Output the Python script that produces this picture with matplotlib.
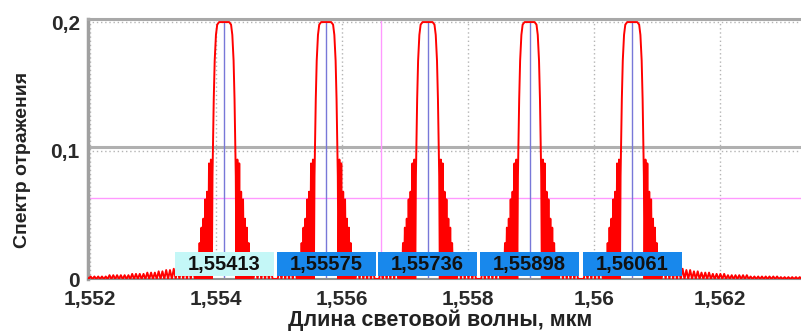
import numpy as np
import matplotlib
matplotlib.use('Agg')
import matplotlib.pyplot as plt
from matplotlib.patches import Rectangle

# peak centres, um, and the labels shown in the boxes
centers = [1.55413, 1.55575, 1.55736, 1.55898, 1.56061]
labels = ['1,55413', '1,55575', '1,55736', '1,55898', '1,56061']

# one reflection peak: offset from centre (nm) -> value
main_off = [0.0, 0.08, 0.11, 0.13, 0.15, 0.165, 0.175, 0.185, 0.19, 0.195]
main_val = [0.2, 0.2, 0.198, 0.19, 0.17, 0.14, 0.11, 0.08, 0.04, 0.0]
# side lobes
lobe_off = [0.21, 0.24, 0.27, 0.30, 0.33, 0.36, 0.39, 0.42, 0.45]
lobe_val = [0.093, 0.09, 0.068, 0.062, 0.047, 0.04, 0.028, 0.02, 0.011]
# weak ripple far from the peak
tail_off = [0.50, 0.56, 0.62, 0.68, 0.74, 0.80, 0.86, 0.92, 0.98, 1.04,
            1.10, 1.16, 1.22, 1.28, 1.34, 1.40, 1.46, 1.52, 1.58, 1.64,
            1.70, 1.76, 1.82, 1.88, 1.94, 2.00, 2.06, 2.12, 2.18, 2.24,
            2.30, 2.36, 2.42, 2.48, 2.54, 2.60, 2.66, 2.72]
tail_val = [0.010, 0.010, 0.009, 0.009, 0.008, 0.008, 0.007, 0.007, 0.006, 0.006,
            0.005, 0.005, 0.005, 0.004, 0.004, 0.004, 0.004, 0.003, 0.003, 0.003,
            0.003, 0.003, 0.003, 0.002, 0.002, 0.002, 0.002, 0.002, 0.002, 0.002,
            0.002, 0.0015, 0.0015, 0.0015, 0.0015, 0.0015, 0.0015, 0.0015]

xticks = [1.552, 1.554, 1.556, 1.558, 1.56, 1.562]
xtick_labels = ['1,552', '1,554', '1,556', '1,558', '1,56', '1,562']
yticks = [0, 0.1, 0.2]
ytick_labels = ['0', '0,1', '0,2']

marker_x = 1.55662   # pink cursor lines
marker_y = 0.063


def one_side(limit):
    off = list(main_off)
    val = list(main_val)
    for o, v in zip(lobe_off, lobe_val):
        off += [o, o + 0.015]
        val += [v, 0.0]
    for o, v in zip(tail_off, tail_val):
        if o + 0.03 < limit:
            off += [o, o + 0.03]
            val += [v, 0.0]
    return np.array(off), np.array(val)


X, Y = [], []
for i, c in enumerate(centers):
    lim_l = (c - centers[i - 1]) * 500 if i > 0 else 3.0
    lim_r = (centers[i + 1] - c) * 500 if i < len(centers) - 1 else 3.0
    lo, lv = one_side(lim_l)
    ro, rv = one_side(lim_r)
    X += list(c - lo[::-1] * 1e-3) + list(c + ro[1:] * 1e-3)
    Y += list(lv[::-1]) + list(rv[1:])

plt.rcParams['font.family'] = ['Liberation Sans', 'DejaVu Sans']

fig = plt.figure(figsize=(8.01, 3.31), dpi=100)
ax = fig.add_axes([0.110, 0.157, 0.890, 0.786])
ax.set_xlim(1.55197, 1.56329)
ax.set_ylim(0, 0.2025)

grid = dict(color='#b4b4b4', lw=1, ls=(0, (1, 2)), zorder=1)
for t in xticks:
    ax.axvline(t, **grid)
for t in yticks[1:]:
    ax.axhline(t, **grid)
ax.axhline(0.1031, color='#b0b0b0', lw=2.2, zorder=1)

ax.axvline(marker_x, color='#ff99ff', lw=1, zorder=1)
ax.axhline(marker_y, color='#ff99ff', lw=1, zorder=1)

for c in centers:
    ax.plot([c, c], [0, 0.2], color='#7878d8', lw=1, zorder=2)

ax.plot(X, Y, color='#ff0000', lw=1.4, zorder=3)

for i, (c, lab) in enumerate(zip(centers, labels)):
    fc = '#c4f7f7' if i == 0 else '#1888ec'
    ax.add_patch(Rectangle((c - 0.000785, 0.0025), 0.00157, 0.0185,
                           facecolor=fc, edgecolor='none', zorder=4))
    ax.text(c, 0.0115, lab, ha='center', va='center', fontsize=14.5,
            fontweight='bold', color='#111111', zorder=5)

ax.set_xticks(xticks)
ax.set_xticklabels(xtick_labels)
ax.set_yticks(yticks)
ax.set_yticklabels(ytick_labels)
ax.tick_params(length=0, labelsize=15, labelcolor='#2a2a2a')
ax.tick_params(axis='x', pad=8)
ax.tick_params(axis='y', pad=6)
for lab in ax.get_xticklabels() + ax.get_yticklabels():
    lab.set_fontweight('bold')

ax.spines['right'].set_visible(False)
ax.spines['top'].set_color('#a8a8a8')
ax.spines['top'].set_linewidth(2.2)
ax.spines['left'].set_color('#a0a0a0')
ax.spines['left'].set_linewidth(2.5)
ax.spines['bottom'].set_color('#909090')
ax.spines['bottom'].set_linewidth(1.5)
ax.spines['bottom'].set_linestyle((0, (1, 1)))

fig.text(0.549, 0.033, 'Длина световой волны, мкм', fontsize=15.5,
         fontweight='bold', color='#222222', ha='center', va='center')
ax.set_ylabel('Спектр отражения', fontsize=14, fontweight='bold',
              color='#222222')
ax.yaxis.set_label_coords(-0.080, 0.458)

fig.savefig('out.png', dpi=100)
